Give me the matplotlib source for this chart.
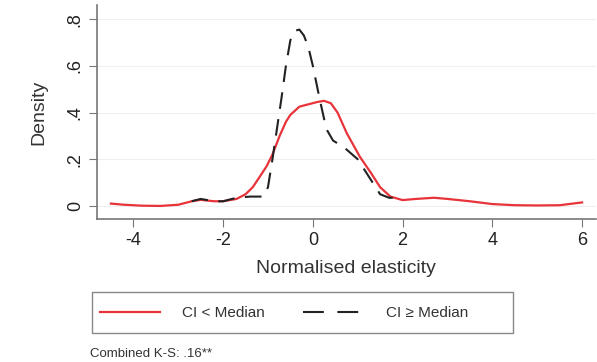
import matplotlib.pyplot as plt
from matplotlib.lines import Line2D
from matplotlib.patches import Rectangle

plt.rcParams["font.family"] = ["Liberation Sans", "DejaVu Sans"]
plt.rcParams["axes.unicode_minus"] = False

# kernel density estimates
x_low = [-4.5, -4.2, -3.8, -3.4, -3.0, -2.7, -2.5, -2.2, -2.0, -1.7, -1.5, -1.34,
         -1.2, -1.03, -0.9, -0.74, -0.6, -0.5, -0.3, -0.1, 0.1, 0.25, 0.4, 0.55,
         0.76, 1.05, 1.3, 1.5, 1.73, 2.0, 2.3, 2.7, 3.0, 3.5, 4.0, 4.5, 5.0, 5.5, 6.0]
dens_low = [0.01, 0.005, 0.001, 0.0, 0.005, 0.02, 0.026, 0.02, 0.02, 0.03, 0.05, 0.08,
            0.12, 0.17, 0.22, 0.3, 0.36, 0.39, 0.425, 0.435, 0.445, 0.45, 0.44, 0.4,
            0.31, 0.21, 0.14, 0.08, 0.04, 0.025, 0.03, 0.035, 0.03, 0.02, 0.008,
            0.003, 0.002, 0.003, 0.015]

x_high = [-2.7, -2.5, -2.2, -2.0, -1.7, -1.4, -1.1, -1.0, -0.9, -0.8, -0.7, -0.6,
          -0.5, -0.4, -0.3, -0.2, -0.1, 0.0, 0.15, 0.3, 0.45, 0.7, 1.0, 1.3, 1.5,
          1.7, 1.9]
dens_high = [0.02, 0.03, 0.02, 0.02, 0.035, 0.04, 0.04, 0.08, 0.2, 0.33, 0.46, 0.6,
             0.71, 0.75, 0.755, 0.73, 0.68, 0.6, 0.46, 0.33, 0.28, 0.25, 0.2, 0.11,
             0.05, 0.035, 0.035]

xticks = [-4, -2, 0, 2, 4, 6]
yticks = [0, 0.2, 0.4, 0.6, 0.8]
ylabels = ["0", ".2", ".4", ".6", ".8"]

red = "#e8333a"
dark = "#222222"

fig = plt.figure(figsize=(5.97, 3.62), dpi=100)
ax = fig.add_axes([0.1625, 0.395, 0.835, 0.591])

ax.plot(x_low, dens_low, color=red, lw=1.6)
ax.plot(x_high, dens_high, color=dark, lw=1.5, dashes=(8, 5))

ax.set_xlim(-4.81, 6.3)
ax.set_ylim(-0.056, 0.86)
ax.set_xticks(xticks)
ax.set_yticks(yticks)
ax.set_yticklabels(ylabels, rotation=90, va="center")
ax.tick_params(direction="out", length=6, color="#777777", labelsize=13, labelcolor="#222222")
ax.grid(axis="y", color="#f0f0f0", lw=0.8)
ax.set_axisbelow(True)
for s in ["top", "right"]:
    ax.spines[s].set_visible(False)
for s in ["left", "bottom"]:
    ax.spines[s].set_color("#777777")
    ax.spines[s].set_linewidth(1.2)

ax.set_xlabel("Normalised elasticity", fontsize=14, color="#333333", labelpad=8)
ax.set_ylabel("Density", fontsize=14, color="#333333", labelpad=14)

fig.add_artist(Rectangle((92 / 597, 1 - 333 / 362), 421 / 597, 41 / 362,
                         transform=fig.transFigure, fill=False,
                         edgecolor="#888888", lw=1.0))
handles = [Line2D([], [], color=red, lw=1.6),
           Line2D([], [], color=dark, lw=1.5, dashes=(10, 6.5))]
leg = fig.legend(handles, ["CI < Median", "CI \u2265 Median"],
                 loc="center left", bbox_to_anchor=(100 / 597, 1 - 313 / 362),
                 ncol=2, frameon=False, fontsize=11, handlelength=3.9,
                 handletextpad=1.5, columnspacing=2.5, borderpad=0, borderaxespad=0)
for t in leg.get_texts():
    t.set_color("#333333")

fig.text(0.151, 0.015, "Combined K-S: .16**", fontsize=9.5, color="#333333")

fig.savefig("out.png", dpi=100)
